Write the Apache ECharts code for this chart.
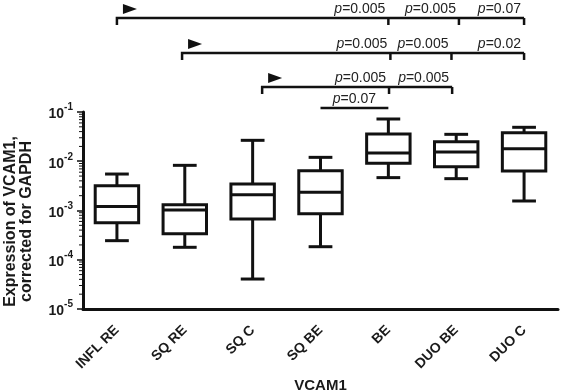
<!DOCTYPE html>
<html><head><meta charset="utf-8">
<script src="https://cdn.jsdelivr.net/npm/echarts@6/dist/echarts.min.js"></script>
<style>html,body{margin:0;padding:0;background:#fff}#c{width:561px;height:390px}</style>
</head><body><div id="c"></div>
<script>
// ---- data ----
const categories = ['INFL RE', 'SQ RE', 'SQ C', 'SQ BE', 'BE', 'DUO BE', 'DUO C'];
const whiskerLow  = [0.000244, 0.000179, 0.0000406, 0.000184, 0.00465, 0.00443, 0.00156];
const quartile1   = [0.000566, 0.000338, 0.000671, 0.000861, 0.00908, 0.00776, 0.00634];
const median      = [0.00120, 0.00102, 0.00210, 0.00234, 0.0147, 0.0154, 0.0180];
const quartile3   = [0.00319, 0.00131, 0.00345, 0.00645, 0.0357, 0.0249, 0.0381];
const whiskerHigh = [0.0055, 0.00826, 0.0266, 0.0120, 0.0721, 0.0352, 0.0489];

const yMin = 1e-5, yMax = 1e-1;
const minorMultipliers = [2, 3, 4, 5, 6, 7, 8, 9];

// significance brackets (category positions, p labels, height in data units)
const bracketStart  = [0, 0.96, 2.14, 3];
const bracketTicks  = [[4, 5.04, 6], [4.03, 4.93, 6], [4.01, 4.94], [4]];
const bracketLabels = [['0.005', '0.005', '0.07'], ['0.005', '0.005', '0.02'], ['0.005', '0.005'], ['0.07']];
const bracketLevel  = [8.1, 1.58, 0.322, 0.12];
const bracketArrow  = [true, true, true, false];

// ---- build ----
const boxData = categories.map((c, i) => [i, whiskerLow[i], quartile1[i], median[i], quartile3[i], whiskerHigh[i]]);
const minorData = [];
for (let e = -5; e < -1; e++) minorMultipliers.forEach(m => minorData.push([0, m * Math.pow(10, e)]));
const bracketData = bracketStart.map((s, i) => [0, 1e-3, i]);

const INK = '#111';
const FONT = '"Liberation Sans", Arial, sans-serif';

function bandInfo(api) {
  const x0 = api.coord([0, 1e-3])[0];
  const band = api.coord([1, 1e-3])[0] - x0;
  return { x0, band };
}

function renderBox(params, api) {
  const i = api.value(0);
  const { x0, band } = bandInfo(api);
  const x = x0 + i * band;
  const bw = band * 0.64, cw = band * 0.35;
  const y = v => api.coord([i, v])[1];
  const yl = y(api.value(1)), y1 = y(api.value(2)), ym = y(api.value(3)), y3 = y(api.value(4)), yh = y(api.value(5));
  const st = { stroke: INK, lineWidth: 3, fill: null };
  return { type: 'group', children: [
    { type: 'line', shape: { x1: x, y1: yh, x2: x, y2: y3 }, style: st },
    { type: 'line', shape: { x1: x, y1: y1, x2: x, y2: yl }, style: st },
    { type: 'line', shape: { x1: x - cw / 2, y1: yh, x2: x + cw / 2, y2: yh }, style: st },
    { type: 'line', shape: { x1: x - cw / 2, y1: yl, x2: x + cw / 2, y2: yl }, style: st },
    { type: 'rect', shape: { x: x - bw / 2, y: y3, width: bw, height: y1 - y3 }, style: { stroke: INK, lineWidth: 3, fill: '#fff' } },
    { type: 'line', shape: { x1: x - bw / 2, y1: ym, x2: x + bw / 2, y2: ym }, style: st }
  ]};
}

function renderMinor(params, api) {
  const { x0, band } = bandInfo(api);
  const ax = x0 - band / 2;
  const yy = api.coord([0, api.value(1)])[1];
  return { type: 'line', shape: { x1: ax - 4, y1: yy, x2: ax, y2: yy }, style: { stroke: INK, lineWidth: 1 } };
}

function renderBracket(params, api) {
  const r = params.dataIndex;
  const { x0, band } = bandInfo(api);
  const px = f => x0 + f * band;
  const ly = api.coord([0, bracketLevel[r]])[1];
  const xs = px(bracketStart[r]);
  const ticks = bracketTicks[r];
  const xe = px(ticks[ticks.length - 1]);
  const st = { stroke: INK, lineWidth: 2.5, fill: null };
  const children = [];
  const txt = (x, y, s, align) => ({ type: 'text', x, y,
    style: { text: '{i|p}=' + s, align, verticalAlign: 'bottom', fill: '#222',
      font: '14px ' + FONT, rich: { i: { fontStyle: 'italic', fontSize: 14, fontFamily: FONT, fill: '#222' } } } });
  if (bracketArrow[r]) {
    children.push({ type: 'polyline', shape: { points: [[xs, ly + 7], [xs, ly], [xe, ly]] }, style: st });
    ticks.forEach(t => children.push({ type: 'line', shape: { x1: px(t), y1: ly, x2: px(t), y2: ly + 7 }, style: st }));
    children.push({ type: 'polygon', shape: { points: [[xs + 6, ly - 14], [xs + 20, ly - 9], [xs + 6, ly - 4]] }, style: { fill: INK } });
    ticks.forEach((t, k) => children.push(txt(px(t) - 3, ly - 2, bracketLabels[r][k], 'right')));
  } else {
    children.push({ type: 'line', shape: { x1: xs, y1: ly, x2: xe, y2: ly }, style: st });
    children.push(txt((xs + xe) / 2, ly - 2, bracketLabels[r][0], 'center'));
  }
  return { type: 'group', children };
}

const chart = echarts.init(document.getElementById('c'), null, { renderer: 'canvas' });
chart.setOption({
  animation: false,
  backgroundColor: '#fff',
  grid: { left: 83, right: 3, top: 112, bottom: 81, containLabel: false, outerBoundsMode: 'none' },
  xAxis: {
    type: 'category', data: categories, boundaryGap: true,
    axisLine: { lineStyle: { color: INK, width: 3 } },
    axisTick: { alignWithLabel: true, length: 6, lineStyle: { color: INK, width: 2 } },
    axisLabel: { interval: 0, rotate: 45, margin: 19, color: '#1a1a1a', fontSize: 14, fontWeight: 'bold', fontFamily: FONT },
    name: 'VCAM1', nameLocation: 'middle', nameGap: 65,
    nameTextStyle: { color: '#1a1a1a', fontSize: 15, fontWeight: 'bold', fontFamily: FONT }
  },
  yAxis: {
    type: 'log', logBase: 10, min: yMin, max: yMax,
    axisLine: { show: true, lineStyle: { color: INK, width: 3 } },
    axisTick: { show: true, length: 6, lineStyle: { color: INK, width: 1.5 } },
    splitLine: { show: false },
    axisLabel: {
      margin: 10, color: '#1a1a1a', fontFamily: FONT,
      formatter: v => '{b|10}{s|' + Math.round(Math.log10(v)) + '}',
      rich: {
        b: { fontSize: 14, fontWeight: 'bold', fontFamily: FONT, color: '#1a1a1a', lineHeight: 19, verticalAlign: 'bottom' },
        s: { fontSize: 10, fontWeight: 'bold', fontFamily: FONT, color: '#1a1a1a', lineHeight: 11, verticalAlign: 'top' }
      }
    },
    name: 'Expression of VCAM1,\ncorrected for GAPDH', nameLocation: 'middle', nameGap: 48,
    nameTextStyle: { color: '#1a1a1a', fontSize: 16, fontWeight: 'bold', fontFamily: FONT, lineHeight: 16, padding: [0, 22, 0, 0] }
  },
  series: [
    { type: 'custom', renderItem: renderMinor, data: minorData, encode: { x: 0, y: 1 }, silent: true, z: 1 },
    { type: 'custom', renderItem: renderBox, data: boxData, encode: { x: 0, y: [1, 2, 3, 4, 5] }, z: 3 },
    { type: 'custom', renderItem: renderBracket, data: bracketData, encode: { x: 0, y: 1 }, silent: true, clip: false, z: 4 }
  ]
});
</script>
</body></html>
